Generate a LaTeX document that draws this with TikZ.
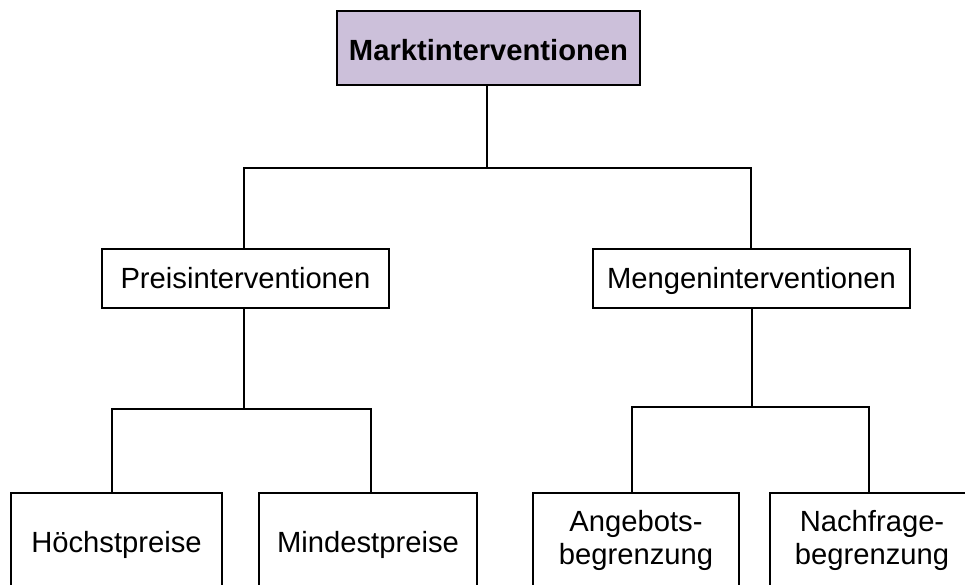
\documentclass[tikz,border=0pt]{standalone}
\usepackage{fontspec}
\setmainfont{Liberation Sans}
\definecolor{lav}{RGB}{204,192,218}
\begin{document}
\begin{tikzpicture}[x=1pt,y=-1pt,
  box/.style={draw, line width=1.6pt, inner sep=0pt, align=center, font=\fontsize{29.2}{33}\selectfont},
  one/.style={text height=#1, text depth=0pt},
  conn/.style={line width=1.6pt}]
\useasboundingbox (0,0) rectangle (965,585);
\clip (0,0) rectangle (965,585);
% nodes
\node[box, one=26pt, fill=lav, minimum width=303pt, minimum height=74pt, font=\fontsize{29.2}{33}\selectfont\bfseries] (top) at (488.5,48) {Marktinterventionen};
\node[box, one=19pt, minimum width=287pt, minimum height=59pt] (preis) at (245.5,278.5) {Preisinterventionen};
\node[box, one=19pt, minimum width=317pt, minimum height=59pt] (mengen) at (751.5,278.5) {Mengeninterventionen};
\node[box, one=23pt, minimum width=211pt, minimum height=95pt] (hoch) at (116.5,540.5) {Höchstpreise};
\node[box, one=23pt, minimum width=218pt, minimum height=95pt] (mind) at (368,540.5) {Mindestpreise};
\node[box, minimum width=206pt, minimum height=95pt] (ang) at (636,540.5) {Angebots-\\begrenzung};
\node[box, minimum width=204pt, minimum height=95pt] (nach) at (872,540.5) {Nachfrage-\\begrenzung};
% junction coordinates
\coordinate (j0) at (487,168);
\coordinate (j0l) at (244,168);
\coordinate (j0r) at (751,168);
\coordinate (j1) at (244,409);
\coordinate (j1l) at (112,409);
\coordinate (j1r) at (371,409);
\coordinate (j2) at (752,407);
\coordinate (j2l) at (632,407);
\coordinate (j2r) at (869,407);
% connectors
\draw[conn] (top.south -| j0) -- (j0);
\draw[conn] (preis.north -| j0l) -- (j0l) -- (j0r) -- (mengen.north -| j0r);
\draw[conn] (preis.south -| j1) -- (j1);
\draw[conn] (hoch.north -| j1l) -- (j1l) -- (j1r) -- (mind.north -| j1r);
\draw[conn] (mengen.south -| j2) -- (j2);
\draw[conn] (ang.north -| j2l) -- (j2l) -- (j2r) -- (nach.north -| j2r);
\end{tikzpicture}
\end{document}
